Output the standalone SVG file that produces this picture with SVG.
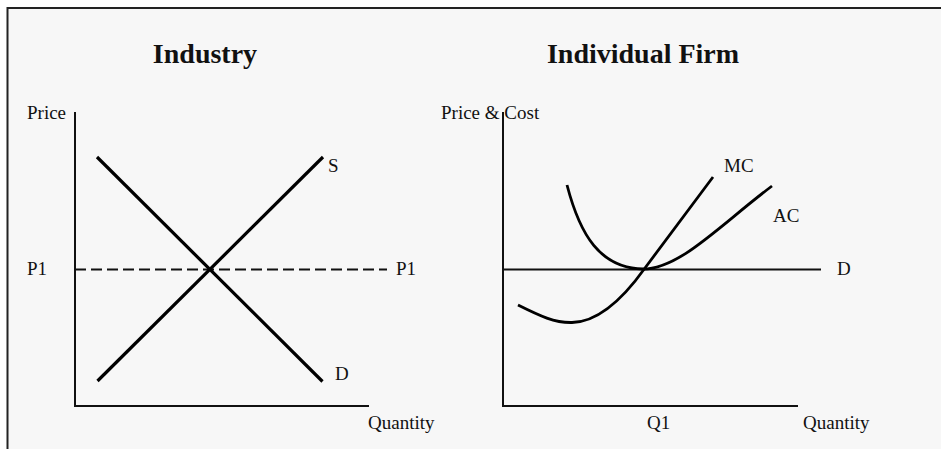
<svg xmlns="http://www.w3.org/2000/svg" width="941" height="449" viewBox="0 0 941 449">
<style>
text{font-family:"Liberation Serif","Times New Roman",serif;fill:#111}
.t{font-size:28px;font-weight:bold}
.l{font-size:19px}
.ax{stroke:#111;stroke-width:2;fill:none}
.thick{stroke:#000;stroke-width:3.2;fill:none}
.cv{stroke:#000;stroke-width:2.8;fill:none;stroke-linecap:butt}
</style>
<rect x="0" y="0" width="941" height="449" fill="#ffffff"/>
<rect x="8" y="8" width="933" height="441" fill="#f7f7f7"/>
<path d="M7,8 H941 M7.5,7 V449" stroke="#222" stroke-width="2" fill="none"/>
<g id="industry">
<text class="t" x="205" y="63" text-anchor="middle">Industry</text>
<text class="l" x="27" y="119">Price</text>
<path class="ax" d="M75,112 V406 H369"/>
<line x1="75" y1="269.5" x2="387" y2="269.5" stroke="#111" stroke-width="2" stroke-dasharray="11,5"/>
<line class="thick" x1="97" y1="157" x2="322.5" y2="381.5"/>
<line class="thick" x1="97.5" y1="381" x2="323" y2="157"/>
<text class="l" x="328" y="172">S</text>
<text class="l" x="335" y="380">D</text>
<text class="l" x="27" y="275">P1</text>
<text class="l" x="396" y="275">P1</text>
<text class="l" x="368" y="429">Quantity</text>
</g>
<g id="firm">
<text class="t" x="643" y="63" text-anchor="middle">Individual Firm</text>
<text class="l" x="441" y="119">Price &amp; Cost</text>
<path class="ax" d="M503,112 V406 H798"/>
<line x1="503" y1="269.5" x2="821" y2="269.5" stroke="#111" stroke-width="2"/>
<path class="cv" d="M567,185 C580,235 600,268 643,269 C680,269 720,225 772,186"/>
<path class="cv" d="M518,305 C540,316 555,323 572,322.5 C600,322 625,296 645,268 L713,177"/>
<text class="l" x="724" y="172">MC</text>
<text class="l" x="773" y="222">AC</text>
<text class="l" x="837" y="275">D</text>
<text class="l" x="647" y="429">Q1</text>
<text class="l" x="803" y="429">Quantity</text>
</g>
</svg>
